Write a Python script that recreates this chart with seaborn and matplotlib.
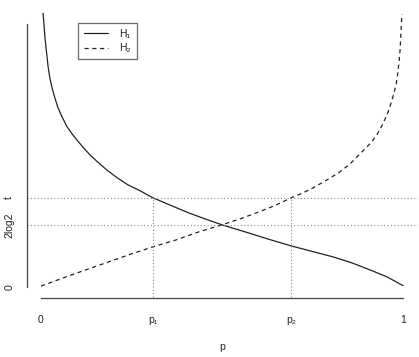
import matplotlib
matplotlib.use("Agg")
import matplotlib.pyplot as plt
from matplotlib.lines import Line2D
import seaborn as sns
import pandas as pd

sns.set_style("white")
plt.rcParams['font.family'] = ['Liberation Sans', 'DejaVu Sans']
plt.rcParams['lines.scale_dashes'] = False

# ---- data ----
p_h1 = [0.0055, 0.0083, 0.0110, 0.0138, 0.0166, 0.0193, 0.0221, 0.0249,
        0.0304, 0.0387, 0.0470, 0.0580, 0.0718, 0.0856, 0.0994, 0.116,
        0.135, 0.155, 0.182, 0.210, 0.240, 0.273, 0.309, 0.356, 0.406,
        0.453, 0.5, 0.564, 0.627, 0.691, 0.749, 0.807, 0.859, 0.909,
        0.956, 1.0]
v_h1 = [6.13, 5.86, 5.57, 5.35, 5.15, 4.94, 4.79, 4.65,
        4.45, 4.21, 4.00, 3.80, 3.58, 3.42, 3.28, 3.12,
        2.95, 2.80, 2.61, 2.44, 2.28, 2.15, 1.99, 1.83, 1.66,
        1.52, 1.387, 1.23, 1.07, 0.917, 0.794, 0.671, 0.537, 0.380,
        0.224, 0.03]

p_h2 = [0.0, 0.080, 0.155, 0.246, 0.309, 0.373, 0.436, 0.5, 0.550, 0.597,
        0.644, 0.691, 0.721, 0.751, 0.790, 0.826, 0.854, 0.876, 0.898,
        0.912, 0.928, 0.945, 0.959, 0.970, 0.981, 0.986, 0.989, 0.992,
        0.994, 0.997]
v_h2 = [0.02, 0.257, 0.470, 0.727, 0.895, 1.05, 1.23, 1.387, 1.52, 1.66,
        1.81, 1.99, 2.09, 2.21, 2.39, 2.57, 2.75, 2.93, 3.11,
        3.22, 3.40, 3.65, 3.91, 4.18, 4.52, 4.79, 5.03, 5.30,
        5.64, 6.09]

p_marks = [0.309, 0.691]
x_tick_pos = [0.0, 0.309, 0.691, 1.0]
x_tick_labels = ["0", "p\u2081", "p\u2082", "1"]
t_val = 1.99
two_log2 = 1.387
y_max = 5.88
y_tick_pos = [0.0, two_log2, t_val, y_max]
y_tick_labels = ["0", "2log2", "t", ""]
legend_labels = ["H\u2081", "H\u2082"]

W, H = 419, 357
fig = plt.figure(figsize=(W / 100, H / 100), dpi=100)
ax = fig.add_axes([26.5 / W, 59.5 / H, 391 / W, 284.5 / H])

df1 = pd.DataFrame({"p": p_h1, "v": v_h1})
df2 = pd.DataFrame({"p": p_h2, "v": v_h2})
lc = "#222222"
sns.lineplot(data=df1, x="p", y="v", ax=ax, color=lc, lw=0.9,
             estimator=None, sort=False)
sns.lineplot(data=df2, x="p", y="v", ax=ax, color=lc, lw=0.9,
             estimator=None, sort=False)
ax.lines[1].set_dashes((3.0, 2.6))

dot = dict(color="#888888", lw=0.8, dashes=(0.8, 1.6))
ax.axhline(t_val, **dot)
ax.axhline(two_log2, **dot)
ylo = -0.04 * y_max
for pm in p_marks:
    ax.plot([pm, pm], [ylo, t_val], **dot)

ax.set_xlim(-0.04, 1.04)
ax.set_ylim(ylo, 1.04 * y_max)

for s in ["top", "right"]:
    ax.spines[s].set_visible(False)
for s in ["left", "bottom"]:
    ax.spines[s].set_color("#444444")
    ax.spines[s].set_linewidth(0.9)
ax.spines["bottom"].set_bounds(0, 1)
ax.spines["left"].set_bounds(0, y_max)

ax.set_xticks(x_tick_pos)
ax.set_xticklabels(x_tick_labels)
ax.set_yticks(y_tick_pos)
ax.set_yticklabels(y_tick_labels, rotation=90, va="center")
ax.tick_params(axis="both", length=4.3, width=0.9, color="#444444",
               labelsize=7.5, labelcolor="#222222", direction="out")
ax.tick_params(axis="x", pad=8)
ax.tick_params(axis="y", pad=4.5)
ax.set_xlabel("")
ax.set_ylabel("")
fig.text(222 / W, 1 - 347 / H, "p", ha="center", va="center",
         fontsize=7.5, color="#222222")

handles = [Line2D([], [], color=lc, lw=0.9),
           Line2D([], [], color=lc, lw=0.9, dashes=(3.0, 2.6))]
leg = fig.legend(handles, legend_labels, loc="upper left",
                 bbox_to_anchor=(78 / W, 1 - 23 / H), borderaxespad=0,
                 fancybox=False, frameon=True, fontsize=7.5,
                 handlelength=2.3, handletextpad=1.1, labelspacing=0.45,
                 borderpad=0.55)
leg.get_frame().set_edgecolor("#444444")
leg.get_frame().set_linewidth(0.9)
for t in leg.get_texts():
    t.set_color("#222222")

fig.savefig("out.png", dpi=100)
